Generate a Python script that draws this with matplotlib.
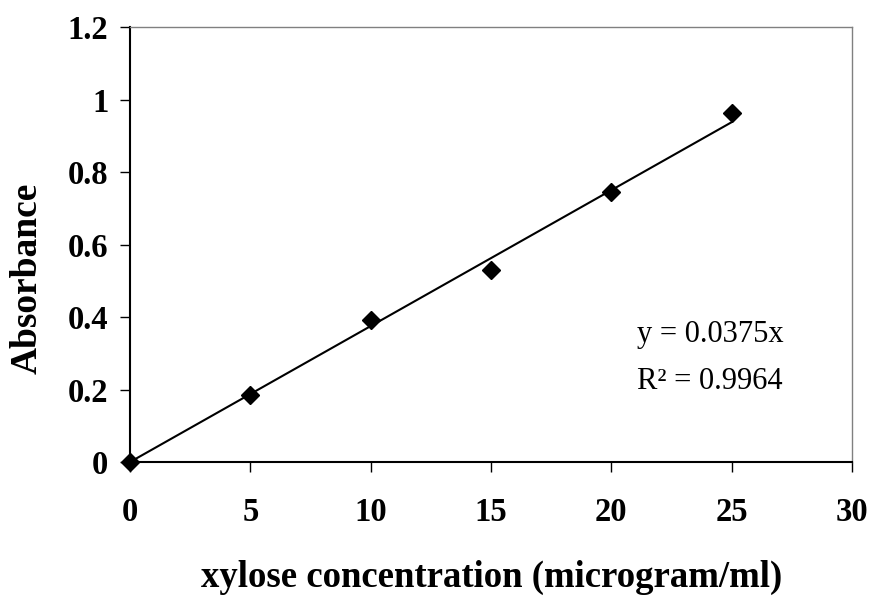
import matplotlib
matplotlib.use("Agg")
import matplotlib.pyplot as plt
import numpy as np

plt.rcParams['font.family'] = ['Liberation Serif', 'DejaVu Serif']

conc = [0, 5, 10, 15, 20, 25]
absorb = [0.0, 0.185, 0.392, 0.53, 0.745, 0.963]
slope = 0.0375
eq_text = "y = 0.0375x"
r2_text = "R\u00b2 = 0.9964"
xticks = [0, 5, 10, 15, 20, 25, 30]
yticks = [0, 0.2, 0.4, 0.6, 0.8, 1.0, 1.2]
ytick_labels = ["0", "0.2", "0.4", "0.6", "0.8", "1", "1.2"]

fig = plt.figure(figsize=(8.75, 5.98), dpi=100)
ax = fig.add_axes([0.1486, 0.2274, 0.8251, 0.7274])

fit_x = np.array([conc[0], conc[-1]])
ax.plot(fit_x, slope * fit_x, color='black', lw=1.5, zorder=2)
ax.plot(conc, absorb, linestyle='none', marker='D', markersize=9.5,
        color='black', zorder=3, clip_on=False)

ax.set_xlim(0, 30)
ax.set_ylim(0, 1.2)
ax.set_xticks(xticks)
ax.set_yticks(yticks)
ax.set_yticklabels(ytick_labels)

for lab in ax.get_xticklabels() + ax.get_yticklabels():
    lab.set_fontweight('bold')
    lab.set_fontsize(23.5)

ax.tick_params(axis='x', direction='out', length=7.5, width=1, pad=18)
ax.tick_params(axis='y', direction='out', length=7.5, width=1, pad=8)

ax.spines['left'].set_linewidth(1.5)
ax.spines['bottom'].set_linewidth(1.5)
for s in ['top', 'right']:
    ax.spines[s].set_color('#808080')
    ax.spines[s].set_linewidth(1.0)

ax.text(0.702, 0.292, eq_text, transform=ax.transAxes, fontsize=22, va='center')
ax.text(0.702, 0.184, r2_text, transform=ax.transAxes, fontsize=22, va='center')

fig.text(0.5617, 0.035, "xylose concentration (microgram/ml)", ha='center',
         va='center', fontsize=26.5, fontweight='bold')
fig.text(0.031, 0.535, "Absorbance", rotation=90, ha='center', va='center',
         fontsize=27, fontweight='bold')

fig.savefig("out.png", dpi=100)
